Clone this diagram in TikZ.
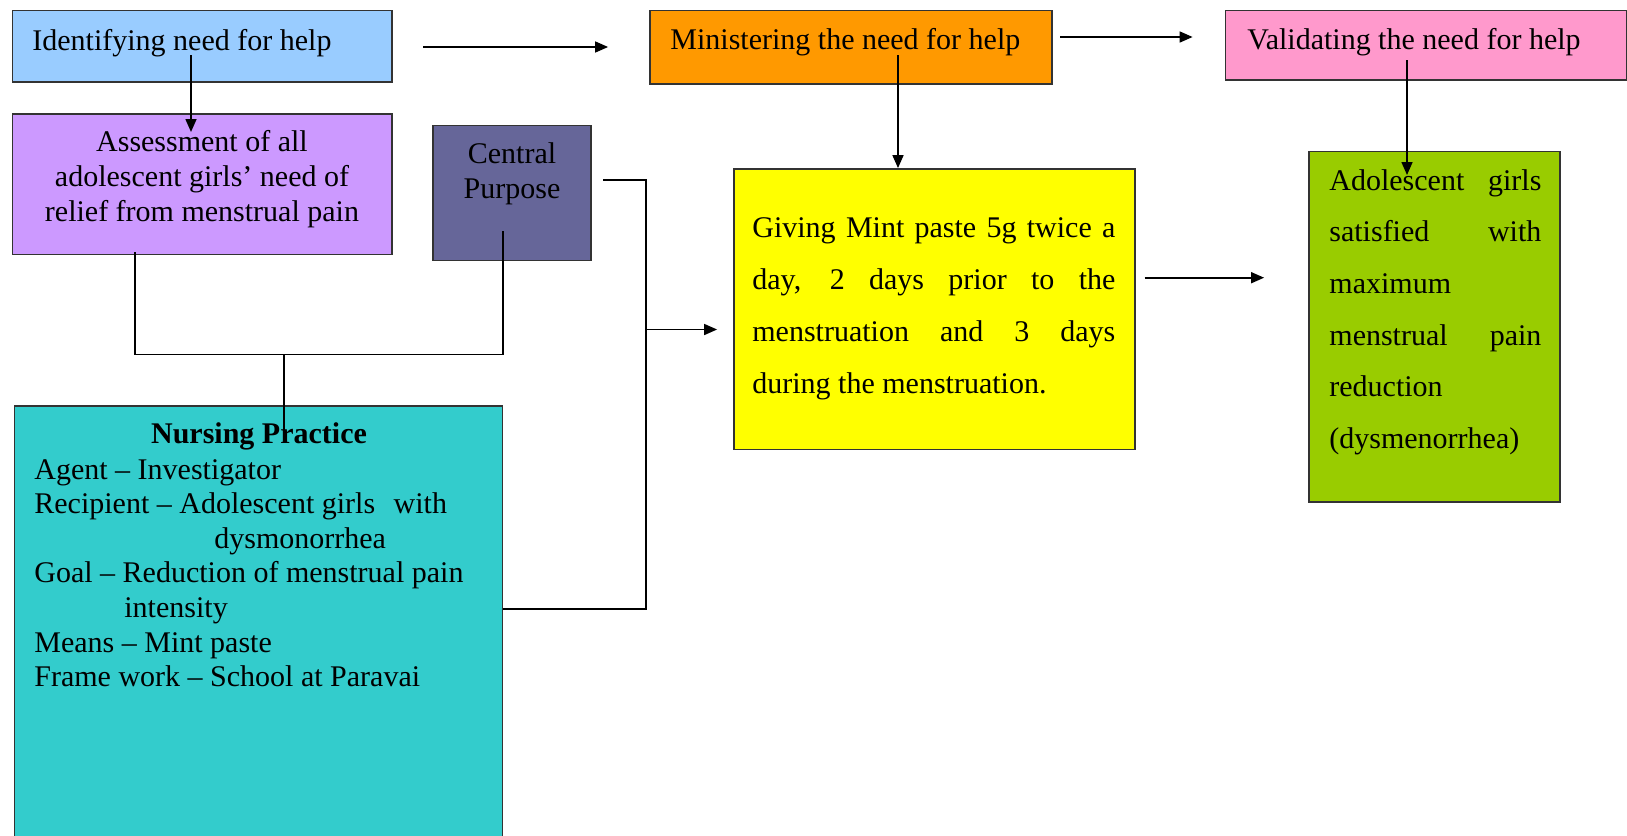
\documentclass[tikz,border=0pt]{standalone}
\usepackage{fontspec}
\setmainfont{Liberation Serif}
\usetikzlibrary{arrows.meta,fit,calc}
\definecolor{cId}{HTML}{99CCFF}
\definecolor{cMin}{HTML}{FF9900}
\definecolor{cVal}{HTML}{FF99CC}
\definecolor{cAss}{HTML}{CC99FF}
\definecolor{cCP}{HTML}{666699}
\definecolor{cYel}{HTML}{FFFF00}
\definecolor{cGr}{HTML}{99CC00}
\definecolor{cNP}{HTML}{33CCCC}
\begin{document}
\begin{tikzpicture}[x=0.5pt,y=-0.5pt,
  box/.style={draw=black!80, line width=0.9pt, inner sep=0pt, rectangle},
  txt/.style={font=\fontsize{15}{17.3}\selectfont, inner sep=0pt},
  wide/.style={font=\fontsize{15}{25.85}\selectfont, inner sep=0pt},
  arr/.style={line width=0.8pt, -{Triangle[length=6.5pt,width=5.5pt]}},
  ln/.style={line width=0.8pt}]
\useasboundingbox (0,0) rectangle (1627,835);
\clip (0,0) rectangle (1627,835);
% boxes
\node[box, fill=cId,  fit={(12.5,10.5)(392,82)}] (id) {};
\node[box, fill=cMin, fit={(650,10.5)(1052,84)}] (min) {};
\node[box, fill=cVal, fit={(1225.5,10.5)(1626.5,80)}] (val) {};
\node[box, fill=cAss, fit={(12.5,114)(392,254.5)}] (ass) {};
\node[box, fill=cCP,  fit={(433,125.5)(591,260.5)}] (cp) {};
\node[box, fill=cYel, fit={(734,169)(1135,449.5)}] (yel) {};
\node[box, fill=cGr,  fit={(1309,151.5)(1560,502)}] (gr) {};
\node[box, fill=cNP,  fit={(14.5,406)(502.5,845)}] (np) {};
% texts (anchor base = baseline of the last line)
\node[txt, anchor=base west] (tid) at (32,50) {Identifying need for help};
\node[txt, anchor=base west] (tmin) at (670,49) {Ministering the need for help};
\node[txt, anchor=base west] (tval) at (1247,49) {Validating the need for help};
\node[txt, anchor=base, align=center] (tass) at (202,221)
  {Assessment of all\\adolescent girls’ need of\\relief from menstrual pain};
\node[txt, anchor=base, align=center] (tcp) at (512,198) {Central\\Purpose};
\node[txt, anchor=base, font=\fontsize{15}{17.3}\selectfont\bfseries] (tnpt) at (259,443) {Nursing Practice};
\node[txt, anchor=base west, align=left] (tnp) at (34,686.6)
  {Agent – Investigator\\
   Recipient – Adolescent girls\hspace{5.5pt} with\\
   \hspace*{90pt}dysmonorrhea\\
   Goal – Reduction of menstrual pain\\
   \hspace*{45pt}intensity\\
   Means – Mint paste\\
   Frame work – School at Paravai};
\node[wide, anchor=base west, align=left] (tyel) at (752,393)
  {\makebox[181.5pt][s]{Giving Mint paste 5g twice a}\\
   \makebox[181.5pt][s]{day, 2 days prior to the}\\
   \makebox[181.5pt][s]{menstruation and 3 days}\\
   during the menstruation.};
\node[wide, anchor=base west, align=left] (tgr) at (1329,448.5)
  {\makebox[106pt][s]{Adolescent girls}\\
   \makebox[106pt][s]{satisfied with}\\
   maximum\\
   \makebox[106pt][s]{menstrual pain}\\
   reduction\\
   (dysmenorrhea)};
% connector points
\coordinate (c1) at (423,47);
\coordinate (c2) at (1060,37);
\coordinate (c3) at (191,55);
\coordinate (c3e) at (191,132);
\coordinate (c4) at (898,55);
\coordinate (c5) at (1407,60);
\coordinate (c5e) at (1407,175);
\coordinate (c6) at (1144.5,277.7);
\coordinate (b1) at (135,252);
\coordinate (b2) at (503,231);
\coordinate (bj) at (284,354.5);
\coordinate (bje) at (284,430);
\coordinate (cpR) at (603,180);
\coordinate (rb) at (646,609);
\coordinate (ra) at (646,329.5);
% connectors
\draw[arr, shorten >=20.5pt] (c1) -- (c1 -| min.west);
\draw[arr, shorten >=16pt] (c2) -- (c2 -| val.west);
\draw[arr] (c3) -- (c3e);
\draw[arr] (c4) -- (c4 |- yel.north);
\draw[arr] (c5) -- (c5e);
\draw[arr, shorten >=22pt] (c6) -- (c6 -| gr.west);
\draw[ln] (b1) |- (bj) -| (b2);
\draw[ln] (bj) -- (bje);
\draw[ln] (cpR) -| (rb) -- (rb -| np.east);
\draw[arr, shorten >=8pt] (ra) -- (ra -| yel.west);
\end{tikzpicture}
\end{document}
